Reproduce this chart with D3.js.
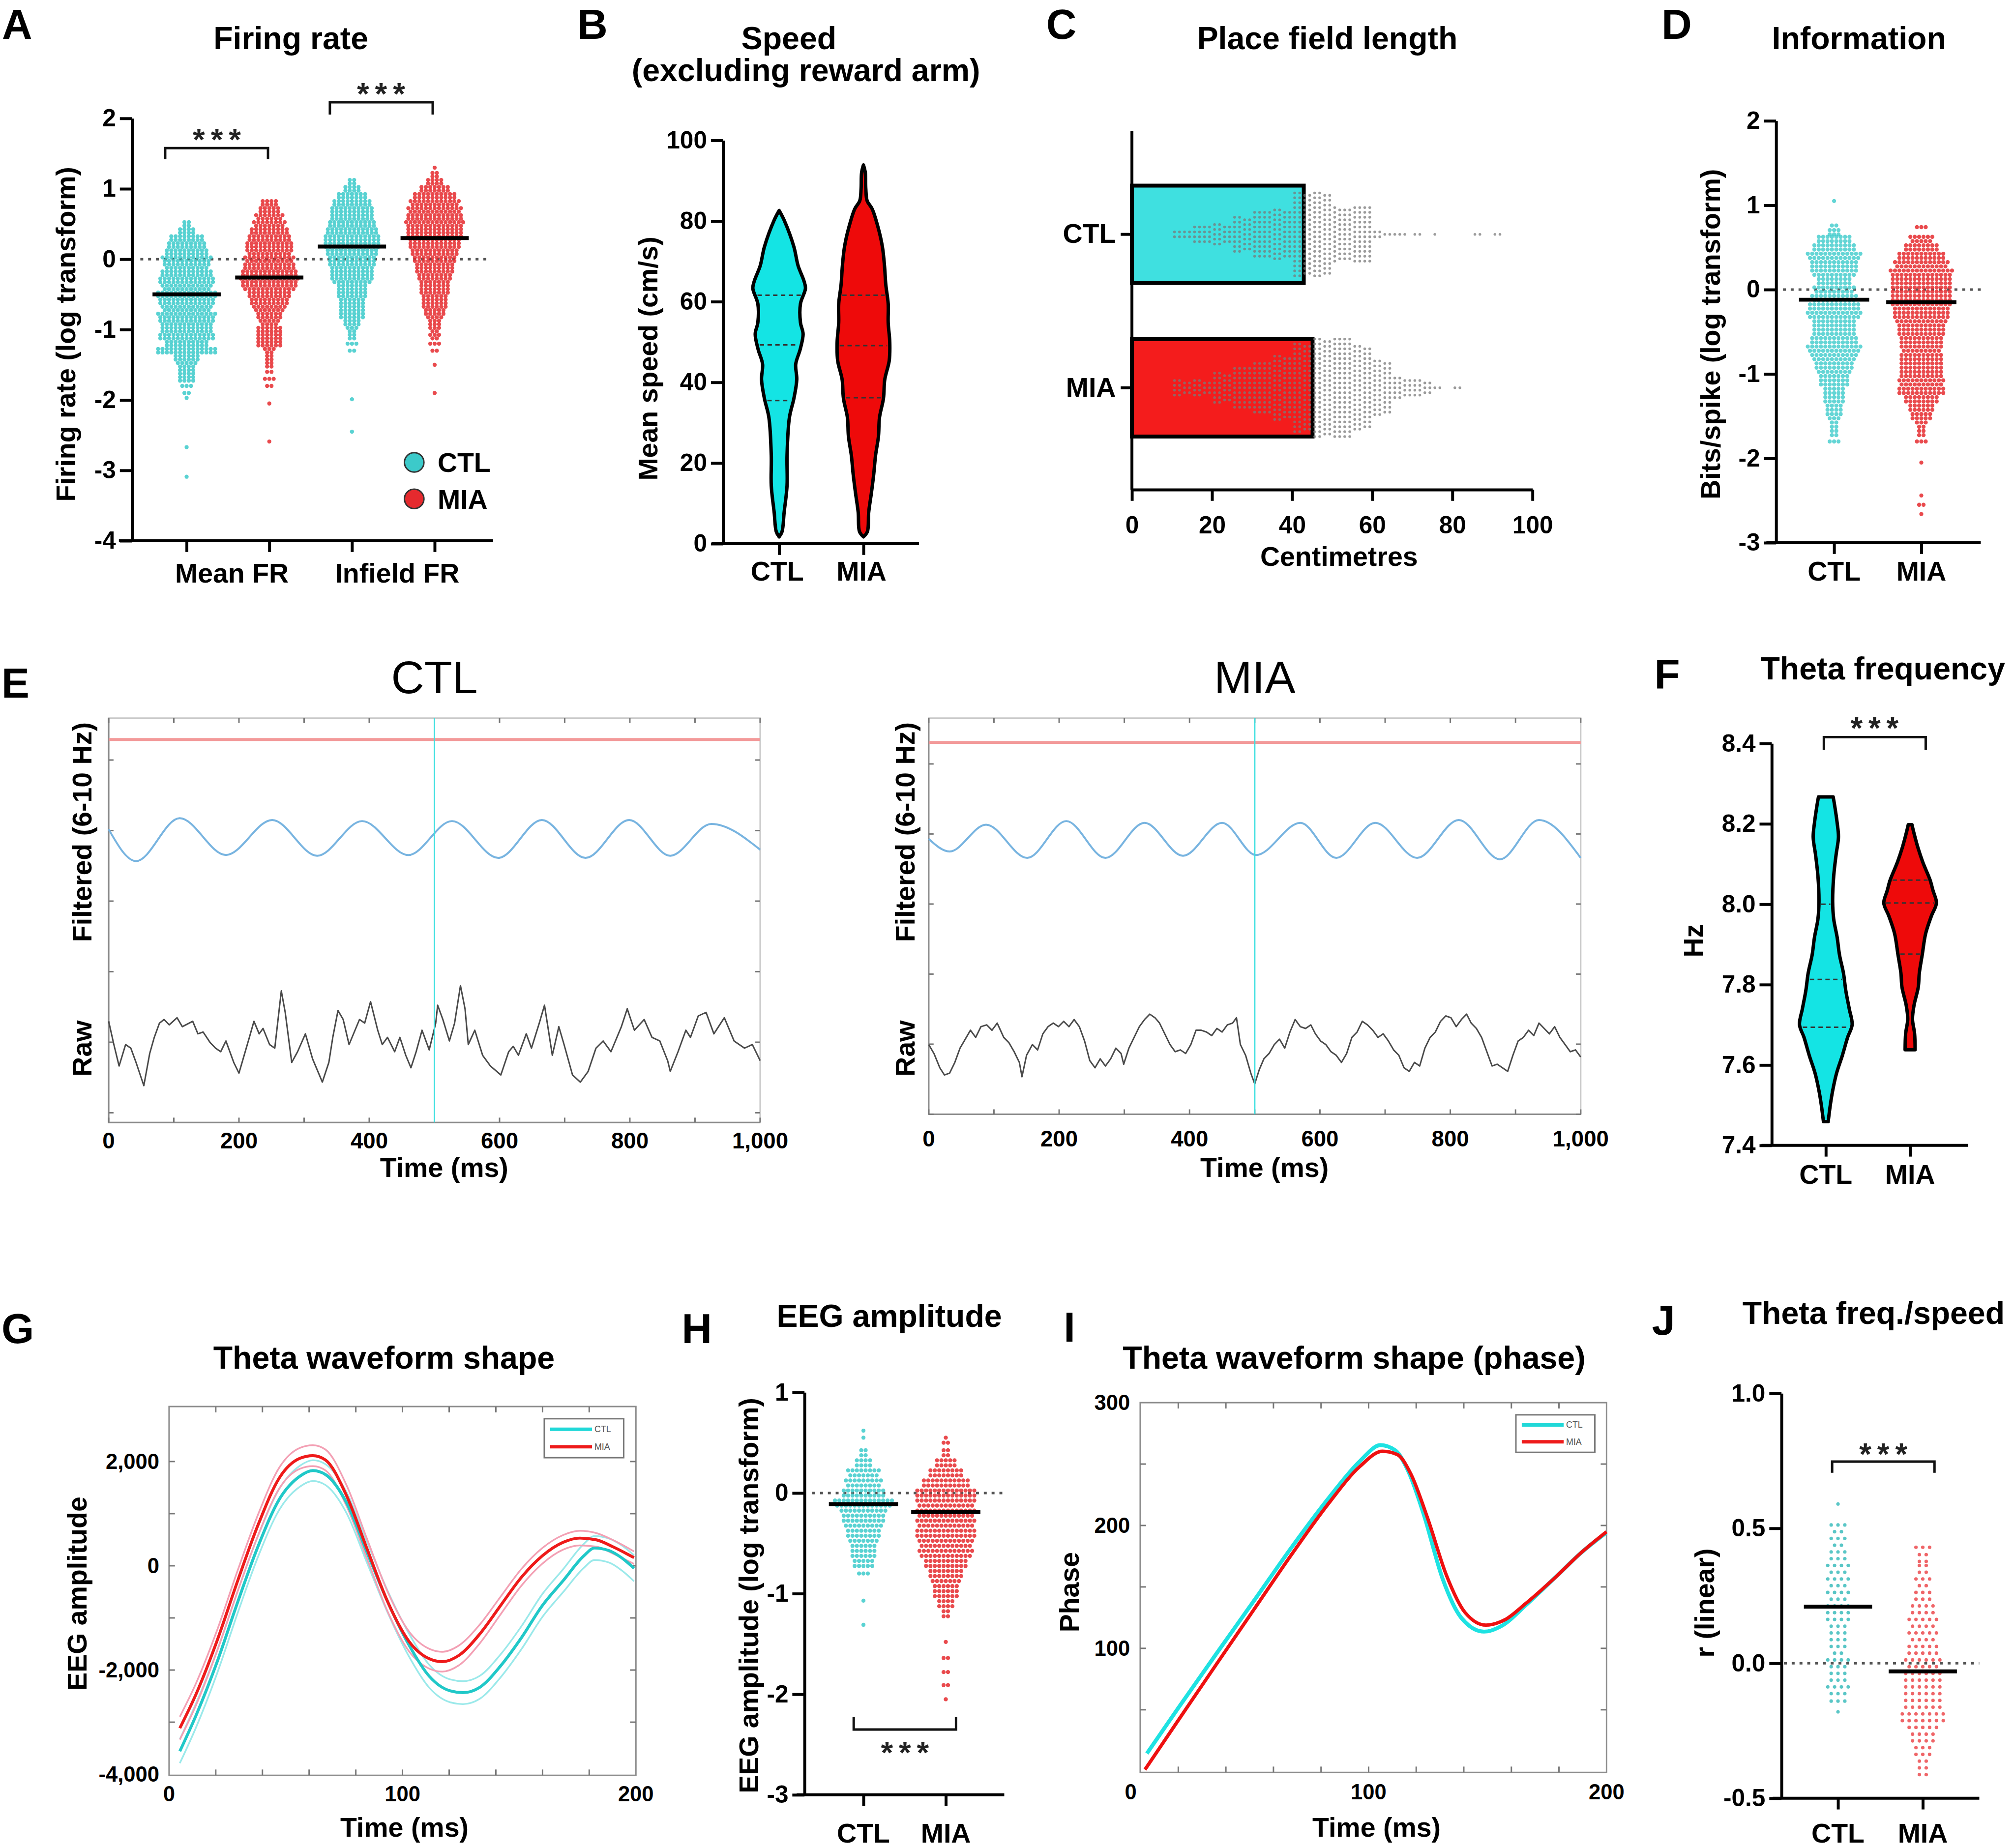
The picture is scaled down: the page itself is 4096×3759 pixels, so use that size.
<!DOCTYPE html>
<html><head><meta charset="utf-8">
<script src="https://cdn.jsdelivr.net/npm/d3@7"></script>
<style>html,body{margin:0;padding:0;background:#fff;}svg{display:block;}</style>
</head><body>
<svg id="fig" width="4096" height="3759"></svg>
<script>
// ================= DATA =================
// A: Firing rate (log transform) — [value, number of cells]
const frGroups = ["Mean FR", "Infield FR"];
const frCats = ["Mean FR|CTL", "Mean FR|MIA", "Infield FR|CTL", "Infield FR|MIA"];
const frMeans = [-0.50, -0.26, 0.18, 0.30];
const frMeanCTL = [[0.5,4],[0.4,8],[0.3,16],[0.2,18],[0.1,20],[0,23],[-0.1,21],[-0.2,24],[-0.3,26],[-0.4,23],[-0.5,28],[-0.6,26],[-0.7,23],[-0.8,27],[-0.9,25],[-1.0,24],[-1.1,26],[-1.2,20],[-1.3,28],[-1.4,12],[-1.5,9],[-1.6,8],[-1.7,8],[-1.8,3],[-1.9,2],[-1.97,1],[-2.67,1],[-3.09,1]];
const frMeanMIA = [[0.8,8],[0.7,10],[0.6,13],[0.5,15],[0.4,18],[0.3,20],[0.2,22],[0.1,21],[0,23],[-0.1,24],[-0.2,26],[-0.3,27],[-0.4,25],[-0.5,20],[-0.6,18],[-0.7,15],[-0.8,12],[-0.9,9],[-1.0,12],[-1.1,12],[-1.2,12],[-1.3,5],[-1.4,4],[-1.5,4],[-1.6,2],[-1.7,3],[-1.8,2],[-2.05,1],[-2.59,1]];
const frInCTL = [[1.1,4],[1.0,8],[0.9,14],[0.8,18],[0.7,20],[0.6,20],[0.5,22],[0.4,24],[0.3,26],[0.2,26],[0.1,24],[0,22],[-0.1,21],[-0.2,20],[-0.3,19],[-0.4,14],[-0.5,14],[-0.6,12],[-0.7,12],[-0.8,12],[-0.9,8],[-1.0,5],[-1.1,4],[-1.2,3],[-1.3,2],[-1.99,1],[-2.45,1]];
const frInMIA = [[1.3,1],[1.2,4],[1.1,8],[1.0,14],[0.9,20],[0.8,23],[0.7,25],[0.6,26],[0.5,27],[0.4,26],[0.3,25],[0.2,24],[0.1,22],[0,20],[-0.1,18],[-0.2,17],[-0.3,15],[-0.4,14],[-0.5,13],[-0.6,12],[-0.7,11],[-0.8,9],[-0.9,6],[-1.0,5],[-1.1,5],[-1.2,3],[-1.3,2],[-1.5,1],[-1.9,1]];
const frYTicks = [-4, -3, -2, -1, 0, 1, 2];

// B: Speed violins — [speed, relative density]; quartiles
const groups = ["CTL", "MIA"];
const spdCTL = [[1.7,0],[3,0.11],[7.8,0.19],[14.4,0.30],[21.9,0.30],[31.3,0.39],[36,0.56],[40.7,0.67],[44.5,0.63],[48.2,0.80],[52,0.91],[54.8,0.81],[59.5,0.81],[63.3,1.0],[65.2,0.94],[68.9,0.72],[73.6,0.56],[80.2,0.19],[82.6,0]];
const spdMIA = [[1.7,0],[3,0.15],[7.8,0.2],[12.5,0.3],[17.2,0.39],[21.9,0.46],[26.6,0.57],[31.3,0.61],[36,0.76],[40.7,0.81],[45.4,0.98],[50,1.0],[54.8,0.94],[59.5,0.94],[64.2,0.85],[68.9,0.8],[73.6,0.72],[78.3,0.56],[83,0.33],[85,0.14],[88,0.09],[92,0.07],[93.9,0]];
const spdQCTL = [35.5, 49.3, 61.6];
const spdQMIA = [36.2, 49.1, 61.6];
const spdTicks = [0, 20, 40, 60, 80, 100];

// C: Place field length — bar means and [cm bin centre, count]
const pfMeans = [42.9, 45.1];
const pfCTL = [[12.5,8],[17.5,16],[22.5,18],[27.5,30],[32.5,40],[37.5,42],[42.5,70],[47.5,70],[52.5,45],[57.5,48],[62.5,6],[67.5,3],[72.5,2],[77.5,1],[87.5,2],[92.5,2]];
const pfMIA = [[12.5,14],[17.5,14],[22.5,26],[27.5,36],[32.5,44],[37.5,54],[42.5,74],[47.5,82],[52.5,84],[57.5,70],[62.5,46],[67.5,18],[72.5,14],[77.5,2],[82.5,2]];
const pfTicks = [0, 20, 40, 60, 80, 100];

// D: Information (bits/spike, log)
const infoMeans = [-0.12, -0.15];
const infoCTL = [[1.05,1],[0.76,2],[0.68,6],[0.6,16],[0.5,20],[0.4,25],[0.3,22],[0.2,21],[0.1,16],[0,19],[-0.1,21],[-0.2,24],[-0.3,25],[-0.4,20],[-0.5,20],[-0.6,22],[-0.7,25],[-0.8,21],[-0.9,18],[-1.0,15],[-1.1,14],[-1.2,10],[-1.3,10],[-1.4,8],[-1.5,7],[-1.6,4],[-1.7,4],[-1.8,3]];
const infoMIA = [[0.74,3],[0.6,11],[0.5,16],[0.4,22],[0.3,25],[0.2,29],[0.1,28],[0,28],[-0.1,28],[-0.2,27],[-0.3,26],[-0.4,23],[-0.5,22],[-0.6,20],[-0.7,19],[-0.8,20],[-0.9,20],[-1.0,20],[-1.1,21],[-1.2,22],[-1.3,16],[-1.4,12],[-1.5,10],[-1.6,5],[-1.7,4],[-1.8,3],[-2.05,1],[-2.44,1],[-2.55,2],[-2.66,1]];
const infoTicks = [-3, -2, -1, 0, 1, 2];

// E: example traces — [time ms, amplitude (a.u.)]
const filtCTL = [[0,0.54],[42,-1.24],[109,1.16],[180,-0.9],[251,1.06],[320,-0.94],[389,1.0],[460,-0.9],[527,1.0],[598,-1.06],[665,1.06],[732,-1.06],[799,1.06],[862,-0.94],[925,0.84],[1000,-0.6]];
const filtMIA = [[0,0],[32,-0.7],[88,0.8],[151,-1.06],[211,1.0],[271,-1.06],[331,0.9],[390,-0.94],[450,0.9],[502,-0.9],[570,0.9],[625,-1.06],[685,0.9],[749,-1.06],[813,1.06],[876,-1.14],[936,1.06],[1000,-1.06]];
const rawCTL = [[0,0.65],[8,0],[16,-0.6],[26,0],[34,-0.1],[42,-0.5],[54,-1.15],[63,-0.25],[70,0.2],[78,0.6],[85,0.7],[93,0.55],[105,0.75],[113,0.5],[129,0.65],[137,0.3],[145,0.35],[156,0.05],[164,-0.1],[172,-0.2],[180,0.1],[192,-0.5],[200,-0.8],[208,-0.3],[216,0.2],[223,0.65],[231,0.3],[237,0.45],[247,0],[255,-0.1],[265,1.5],[271,0.9],[281,-0.5],[290,-0.2],[302,0.3],[313,-0.4],[328,-1.05],[338,-0.5],[344,0.2],[352,0.95],[360,0.7],[369,0],[385,0.7],[393,0.6],[402,1.2],[413,0.4],[420,0],[428,0.2],[439,-0.2],[447,0.2],[456,-0.3],[464,-0.65],[472,-0.2],[481,0.4],[492,-0.15],[502,0.6],[505,1.1],[513,0.7],[523,0.1],[531,0.6],[540,1.65],[547,1.0],[552,0],[562,0.4],[574,-0.3],[586,-0.6],[602,-0.85],[614,-0.2],[621,-0.05],[629,-0.3],[641,0.3],[649,-0.1],[661,0.6],[669,1.1],[681,-0.3],[691,0.5],[699,0],[712,-0.85],[724,-1.05],[736,-0.75],[748,-0.1],[759,0.1],[771,-0.2],[787,0.5],[796,1.0],[807,0.4],[822,0.7],[834,0.2],[846,0.1],[858,-0.45],[862,-0.75],[874,-0.2],[886,0.4],[893,0.2],[905,0.8],[917,0.9],[929,0.3],[945,0.75],[960,0.1],[976,-0.1],[988,0],[1000,-0.45]];
const rawMIA = [[0,0],[8,-0.25],[17,-0.65],[24,-0.85],[32,-0.8],[40,-0.5],[48,-0.1],[56,0.15],[64,0.4],[72,0.2],[80,0.5],[89,0.55],[97,0.4],[105,0.6],[115,0.2],[123,0.05],[131,-0.2],[139,-0.5],[143,-0.9],[150,-0.3],[159,0],[167,-0.15],[175,0.3],[183,0.5],[191,0.6],[199,0.5],[207,0.65],[215,0.5],[223,0.7],[231,0.5],[239,0.1],[247,-0.45],[255,-0.65],[263,-0.4],[271,-0.6],[279,-0.4],[287,-0.1],[295,-0.25],[299,-0.55],[307,-0.1],[315,0.2],[323,0.5],[331,0.7],[339,0.85],[347,0.75],[354,0.6],[362,0.3],[370,0],[378,-0.2],[386,-0.15],[394,-0.25],[402,0],[410,0.4],[418,0.4],[426,0.35],[434,0.25],[442,0.45],[450,0.35],[458,0.55],[466,0.6],[472,0.75],[478,0],[486,-0.3],[494,-0.8],[500,-1.1],[507,-0.7],[514,-0.4],[522,-0.25],[530,0],[538,0.15],[546,-0.1],[554,0.35],[562,0.7],[570,0.5],[578,0.45],[586,0.55],[593,0.3],[601,0.1],[609,0],[617,-0.2],[625,-0.3],[633,-0.5],[641,-0.25],[649,0.2],[657,0.35],[665,0.65],[673,0.55],[681,0.4],[689,0.2],[697,0.3],[705,0.1],[713,-0.15],[721,-0.3],[729,-0.65],[737,-0.75],[745,-0.5],[753,-0.6],[761,-0.1],[769,0.2],[777,0.35],[785,0.65],[793,0.8],[801,0.75],[809,0.5],[817,0.7],[825,0.85],[832,0.6],[840,0.45],[848,0.2],[856,-0.2],[864,-0.6],[872,-0.55],[880,-0.65],[888,-0.75],[896,-0.3],[904,0.1],[912,0.2],[920,0.4],[928,0.25],[936,0.6],[944,0.45],[952,0.3],[960,0.5],[968,0.2],[976,0],[984,-0.2],[992,-0.15],[1000,-0.35]];
const threshCTL = 5.56, threshMIA = 5.4;
const eegTimeTicks = [0, 200, 400, 600, 800, 1000];

// F: Theta frequency violins
const thetaCTL = [[7.459,0.09],[7.5,0.17],[7.536,0.26],[7.58,0.41],[7.624,0.63],[7.669,0.83],[7.7,1.0],[7.74,0.89],[7.785,0.76],[7.829,0.67],[7.874,0.52],[7.918,0.43],[7.963,0.30],[8.007,0.26],[8.07,0.30],[8.123,0.39],[8.167,0.48],[8.203,0.43],[8.248,0.33],[8.267,0.28]];
const thetaMIA = [[7.638,0.19],[7.678,0.17],[7.714,0.09],[7.749,0.15],[7.794,0.31],[7.829,0.35],[7.874,0.46],[7.927,0.59],[7.971,0.81],[8.003,1.0],[8.034,0.87],[8.06,0.76],[8.105,0.48],[8.14,0.30],[8.176,0.15],[8.198,0.07]];
const thetaQCTL = [7.694, 7.813, 8.0];
const thetaQMIA = [7.876, 8.003, 8.06];
const thetaTicks = [7.4, 7.6, 7.8, 8.0, 8.2, 8.4];

// G: Theta waveform shape — [time ms, amplitude], SEM
const waveCTL = [[4.6,-3558],[11.5,-2876],[20.5,-1854],[29.4,-695],[38.3,395],[47.3,1281],[56.2,1723],[61.6,1826],[67,1750],[76,1213],[84.8,258],[93.7,-695],[102.7,-1513],[111.6,-2126],[120.5,-2400],[125.9,-2434],[133.1,-2332],[142,-1922],[151,-1377],[159.9,-764],[168.8,-287],[177.7,190],[182.2,340],[188.5,292],[193.8,156],[199.2,-48]];
const waveSemCTL = [230,230,220,210,200,200,200,200,200,200,200,210,220,220,220,220,220,220,220,220,220,230,230,230,240,250];
const waveMIA = [[4.6,-3115],[11.5,-2468],[20.5,-1445],[29.4,-287],[38.3,804],[47.3,1690],[56.2,2064],[61.6,2112],[67,2030],[76,1349],[84.8,327],[93.7,-695],[102.7,-1445],[111.6,-1786],[117,-1840],[124.2,-1718],[133.1,-1309],[142,-764],[151,-218],[159.9,190],[168.8,449],[176,531],[183.1,497],[190.3,361],[199.2,156]];
const waveSemMIA = [220,210,200,200,200,200,200,200,200,200,190,190,190,190,190,190,180,170,160,150,140,140,130,130,120];
const waveYTicks = [2000, 0, -2000, -4000];
const msTicks = [0, 100, 200];

// H: EEG amplitude (log)
const ampMeans = [-0.11, -0.19];
const ampCTL = [[0.62,1],[0.55,1],[0.4,4],[0.3,8],[0.2,15],[0.1,17],[0,20],[-0.1,27],[-0.2,21],[-0.3,19],[-0.4,16],[-0.5,13],[-0.6,12],[-0.7,10],[-0.8,3],[-1.07,1],[-1.31,1]];
const ampMIA = [[0.55,1],[0.5,2],[0.4,4],[0.3,10],[0.2,16],[0.1,22],[0,28],[-0.1,27],[-0.2,27],[-0.3,27],[-0.4,28],[-0.5,25],[-0.6,25],[-0.7,20],[-0.8,16],[-0.9,13],[-1.0,12],[-1.1,8],[-1.2,4],[-1.48,1],[-1.64,2],[-1.78,2],[-1.91,2],[-2.05,1]];
const ampTicks = [-3, -2, -1, 0, 1];

// I: Theta waveform shape (phase)
const phaseCTL = [[6.8,14.4],[20.2,52],[36,95.6],[51.9,139],[67.8,182.7],[83.6,223.3],[96.3,252.3],[105,265.4],[111.3,261],[116.8,243.6],[123.2,208.8],[131.1,156.6],[139,124.7],[148.5,113.6],[156.4,118.8],[165.9,134.8],[178.6,158],[189.6,178.3],[200,194.3]];
const phaseMIA = [[6,1.3],[20.2,42],[36,87],[51.9,131.9],[67.8,176.9],[83.6,219],[96.3,248],[105.8,260.4],[112.1,257.7],[117.7,242.1],[124.8,205.9],[132.7,159.5],[140.6,129],[149.3,118.9],[157.2,123.2],[165.9,136.3],[178.6,158],[189.6,178.3],[200,194.9]];
const phaseTicks = [100, 200, 300];

// J: Theta freq./speed correlation
const corrMeans = [0.21, -0.03];
const corrCTL = [[0.59,1],[0.5,5],[0.45,5],[0.4,6],[0.35,7],[0.3,7],[0.25,7],[0.2,8],[0.15,7],[0.1,6],[0.05,5],[0,7],[-0.05,6],[-0.1,7],[-0.14,3],[-0.18,1]];
const corrMIA = [[0.43,3],[0.39,4],[0.35,4],[0.3,5],[0.25,6],[0.2,8],[0.15,9],[0.1,9],[0.05,10],[0,11],[-0.05,12],[-0.1,12],[-0.15,12],[-0.2,14],[-0.25,9],[-0.3,7],[-0.35,5],[-0.4,4]];
const corrTicks = [-0.5, 0, 0.5, 1.0];

// ================= DRAWING =================
const FONT = "'Liberation Sans', Arial, Helvetica, sans-serif";
const CYAN_DOT = "#3ccaca", RED_DOT = "#e52a2e";
const CYAN_FILL = "#14e4e4", RED_FILL = "#ee0a0a";
const svg = d3.select("#fig");
svg.append("rect").attr("width", 4096).attr("height", 3759).attr("fill", "#fff");
const root = svg.append("g").attr("transform", "scale(0.991)");
const hy = s => String(s).replace(/\u2212/g, "-");

function text(g, x, y, s, o = {}) {
  const t = g.append("text").attr("x", x).attr("y", y).text(s)
    .attr("font-family", FONT).attr("font-weight", o.weight || "bold")
    .attr("font-size", o.size || 56).attr("fill", o.fill || "#000")
    .attr("text-anchor", o.anchor || "middle");
  if (o.rotate) t.attr("transform", `rotate(-90,${x},${y})`).attr("dominant-baseline", "central");
  if (o.baseline) t.attr("dominant-baseline", o.baseline);
  if (o.ls) t.attr("letter-spacing", o.ls);
  return t;
}
function letter(g, x, y, s) { return text(g, x, y, s, { size: 86, anchor: "start" }); }
function styleAxis(sel, fs) {
  sel.select(".domain").attr("stroke", "#000").attr("stroke-width", 6);
  sel.selectAll(".tick line").attr("stroke", "#000").attr("stroke-width", 6);
  sel.selectAll(".tick text").attr("font-family", FONT).attr("font-weight", "bold")
    .attr("font-size", fs).attr("fill", "#000");
}
function leftAxis(g, y, xPos, ticks, fmt) {
  g.append("g").attr("transform", `translate(${xPos},0)`)
    .call(d3.axisLeft(y).tickValues(ticks).tickFormat(fmt).tickSize(25).tickSizeOuter(0).tickPadding(8))
    .call(styleAxis, 50);
}
function bottomCatAxis(g, x, yPos, x0, x1) {
  g.append("line").attr("x1", x0).attr("x2", x1).attr("y1", yPos).attr("y2", yPos)
    .attr("stroke", "#000").attr("stroke-width", 6);
  g.append("g").attr("transform", `translate(0,${yPos})`)
    .call(d3.axisBottom(x).tickSize(23).tickSizeOuter(0).tickFormat(""))
    .call(s => s.select(".domain").remove()).call(styleAxis, 50);
}
function zeroLine(g, yv, x0, x1) {
  g.append("line").attr("x1", x0).attr("x2", x1).attr("y1", yv).attr("y2", yv)
    .attr("stroke", "#555").attr("stroke-width", 5).attr("stroke-dasharray", "6 10");
}
function swarmPoints(bins, cx, y, binW, k, s) {
  const rowPx = Math.abs(y(0) - y(binW));
  const pts = [];
  bins.forEach(([v, n]) => {
    const kk = n < 2 * k ? 1 : k;
    for (let j = 0; j < kk; j++) {
      const m = Math.floor(n / kk) + (j < n % kk ? 1 : 0);
      const yy = y(v) + (kk > 1 ? (j - (kk - 1) / 2) * rowPx / kk : 0);
      for (let i = 0; i < m; i++) pts.push([cx + (i - (m - 1) / 2) * s, yy]);
    }
  });
  return pts;
}
function dots(g, pts, r, color, op = 0.85) {
  g.append("g").selectAll("circle").data(pts).join("circle")
    .attr("cx", d => d[0]).attr("cy", d => d[1]).attr("r", r)
    .attr("fill", color).attr("fill-opacity", op);
}
function meanLine(g, cx, yv, hw) {
  g.append("line").attr("x1", cx - hw).attr("x2", cx + hw).attr("y1", yv).attr("y2", yv)
    .attr("stroke", "#000").attr("stroke-width", 8);
}
function bracket(g, x0, x1, yBar, yEnd) {
  g.append("path").attr("d", `M${x0},${yEnd}V${yBar}H${x1}V${yEnd}`)
    .attr("fill", "none").attr("stroke", "#111").attr("stroke-width", 5);
}
function stars(g, cx, base) {
  text(g, cx + 6, base, "***", { size: 64, ls: 12, fill: "#222" });
}
function densAt(data, v) {
  for (let i = 1; i < data.length; i++) {
    if (v <= data[i][0]) {
      const [a0, b0] = data[i - 1], [a1, b1] = data[i];
      return b0 + (b1 - b0) * (v - a0) / (a1 - a0);
    }
  }
  return 0;
}
function violin(g, data, cx, y, w, fill, quart) {
  const area = d3.area().y(d => y(d[0])).x0(d => cx - w(d[1])).x1(d => cx + w(d[1]))
    .curve(d3.curveCatmullRom.alpha(0.5));
  g.append("path").datum(data).attr("d", area).attr("fill", fill)
    .attr("stroke", "#000").attr("stroke-width", 7).attr("stroke-linejoin", "round");
  quart.forEach(q => {
    const hw = Math.max(0, w(densAt(data, q)) - 5);
    g.append("line").attr("x1", cx - hw).attr("x2", cx + hw).attr("y1", y(q)).attr("y2", y(q))
      .attr("stroke", "#333").attr("stroke-width", 3).attr("stroke-dasharray", "9 7");
  });
}

// ---------- Panel A ----------
{
  const g = root.append("g");
  letter(g, 4, 80, "A");
  text(g, 597, 101, "Firing rate", { size: 65 });
  const y = d3.scaleLinear().domain([-4, 2]).range([1110, 243]);
  const x = d3.scalePoint().domain(frCats).range([383, 892]);
  zeroLine(g, y(0), 288, 1002);
  const sets = [frMeanCTL, frMeanMIA, frInCTL, frInMIA];
  sets.forEach((b, i) => dots(g, swarmPoints(b, x(frCats[i]), y, 0.1, 2, 9), 4.2, i % 2 ? RED_DOT : CYAN_DOT));
  frMeans.forEach((m, i) => meanLine(g, x(frCats[i]), y(m), 70));
  leftAxis(g, y, 271, frYTicks, d => hy(d));
  bottomCatAxis(g, x, y(-4), 244, 1012);
  frGroups.forEach((grp) => {
    const cx = (x(grp + "|CTL") + x(grp + "|MIA")) / 2 + 8;
    text(g, cx, 1196, grp);
  });
  text(g, 135, 686, "Firing rate (log transform)", { rotate: true });
  bracket(g, 339, 550, 304, 327); stars(g, 445, 308);
  bracket(g, 677, 888, 210, 235); stars(g, 782, 214);
  [["CTL", CYAN_DOT, 949], ["MIA", RED_DOT, 1024]].forEach(([lab, c, yy]) => {
    g.append("circle").attr("cx", 850).attr("cy", yy).attr("r", 20).attr("fill", c)
      .attr("stroke", "#333").attr("stroke-width", 3);
    text(g, 898, yy + 20, lab, { anchor: "start" });
  });
}

// ---------- Panel B ----------
{
  const g = root.append("g");
  letter(g, 1185, 80, "B");
  text(g, 1619, 101, "Speed", { size: 65 });
  text(g, 1654, 167, "(excluding reward arm)", { size: 65 });
  const y = d3.scaleLinear().domain([0, 100]).range([1116, 288]);
  const x = d3.scalePoint().domain(groups).range([1599, 1772]);
  const w = d3.scaleLinear().domain([0, 1]).range([0, 54]);
  violin(g, spdCTL, x("CTL"), y, w, CYAN_FILL, spdQCTL);
  violin(g, spdMIA, x("MIA"), y, w, RED_FILL, spdQMIA);
  leftAxis(g, y, 1484, spdTicks, d => d);
  bottomCatAxis(g, x, y(0), 1461, 1886);
  groups.forEach(c => text(g, x(c) - 4, 1192, c));
  text(g, 1330, 736, "Mean speed (cm/s)", { rotate: true });
}

// ---------- Panel C ----------
{
  const g = root.append("g");
  letter(g, 2147, 80, "C");
  text(g, 2724, 101, "Place field length", { size: 65 });
  const x = d3.scaleLinear().domain([0, 100]).range([2323, 3145]);
  const y = d3.scaleBand().domain(groups).range([323.5, 953.5]).paddingInner(0.365).paddingOuter(0.1825);
  [[pfMeans[0], "CTL", "#3fe0e0"], [pfMeans[1], "MIA", "#f41c1c"]].forEach(([m, c, col]) => {
    g.append("rect").attr("x", x(0)).attr("y", y(c)).attr("width", x(m) - x(0)).attr("height", y.bandwidth())
      .attr("fill", col).attr("stroke", "#000").attr("stroke-width", 8);
  });
  const colPx = x(5) - x(0);
  [[pfCTL, "CTL"], [pfMIA, "MIA"]].forEach(([bins, c]) => {
    const cy = y(c) + y.bandwidth() / 2;
    const pts = [];
    bins.forEach(([v, n]) => {
      const k = 4;
      for (let j = 0; j < k; j++) {
        const m = Math.floor(n / k) + (j < n % k ? 1 : 0);
        const xx = x(v) + (j - (k - 1) / 2) * colPx / k;
        for (let i = 0; i < m; i++) pts.push([xx, cy + (i - (m - 1) / 2) * 10]);
      }
    });
    dots(g, pts, 2.8, "#7a7a7a", 0.75);
  });
  g.append("line").attr("x1", x(0)).attr("x2", x(0)).attr("y1", 269).attr("y2", 1005)
    .attr("stroke", "#000").attr("stroke-width", 6);
  g.append("g").attr("transform", "translate(0,1005)")
    .call(d3.axisBottom(x).tickValues(pfTicks).tickSize(23).tickSizeOuter(0).tickPadding(31))
    .call(styleAxis, 50);
  g.append("g").attr("transform", `translate(${x(0)},0)`)
    .call(d3.axisLeft(y).tickSize(23).tickSizeOuter(0).tickPadding(10))
    .call(s => s.select(".domain").remove()).call(styleAxis, 56);
  text(g, 2748, 1161, "Centimetres");
}

// ---------- Panel D ----------
{
  const g = root.append("g");
  letter(g, 3410, 80, "D");
  text(g, 3815, 101, "Information", { size: 65 });
  const y = d3.scaleLinear().domain([-3, 2]).range([1114, 248]);
  const x = d3.scalePoint().domain(groups).range([3764, 3943]);
  zeroLine(g, y(0), 3659, 4065);
  dots(g, swarmPoints(infoCTL, x("CTL"), y, 0.1, 2, 9), 4.2, CYAN_DOT, 0.8);
  dots(g, swarmPoints(infoMIA, x("MIA"), y, 0.1, 2, 9), 4.2, RED_DOT);
  infoMeans.forEach((m, i) => meanLine(g, x(groups[i]), y(m), 72));
  leftAxis(g, y, 3645, infoTicks, d => hy(d));
  bottomCatAxis(g, x, y(-3), 3625, 4065);
  groups.forEach(c => text(g, x(c), 1192, c));
  text(g, 3511, 686, "Bits/spike (log transform)", { rotate: true });
}

// ---------- Panel E ----------
function eegPanel(o) {
  const g = root.append("g");
  const x = d3.scaleLinear().domain([0, 1000]).range([o.x0, o.x1]);
  const yT = d3.scaleLinear().domain([0, 5]).range(o.tickRange);
  const yF = d3.scaleLinear().domain([-1, 1]).range([1758.7, 1685.3]);
  const yR = d3.scaleLinear().domain([-1, 1]).range([2217.4, 2070.6]);
  g.append("rect").attr("x", o.x0).attr("y", o.yTop).attr("width", o.x1 - o.x0).attr("height", o.yBot - o.yTop)
    .attr("fill", "none").attr("stroke", "#c8c8c8").attr("stroke-width", 3);
  g.append("path").attr("d", `M${o.x0},${o.yTop}V${o.yBot}H${o.x1}`).attr("fill", "none")
    .attr("stroke", "#8a8a8a").attr("stroke-width", 3);
  d3.range(0, 1001, 100).forEach(t => {
    g.append("line").attr("x1", x(t)).attr("x2", x(t)).attr("y1", o.yBot).attr("y2", o.yBot - 10).attr("stroke", "#777").attr("stroke-width", 3);
    g.append("line").attr("x1", x(t)).attr("x2", x(t)).attr("y1", o.yTop).attr("y2", o.yTop + 10).attr("stroke", "#777").attr("stroke-width", 3);
  });
  d3.range(0, 6).forEach(t => {
    g.append("line").attr("x1", o.x0).attr("x2", o.x0 + 10).attr("y1", yT(t)).attr("y2", yT(t)).attr("stroke", "#777").attr("stroke-width", 3);
    g.append("line").attr("x1", o.x1 - 10).attr("x2", o.x1).attr("y1", yT(t)).attr("y2", yT(t)).attr("stroke", "#777").attr("stroke-width", 3);
  });
  eegTimeTicks.forEach(t => text(g, x(t), o.labelY, d3.format(",")(t), { size: 46 }));
  text(g, (o.x0 + o.x1) / 2 + 20, 2416, "Time (ms)");
  text(g, (o.x0 + o.x1) / 2, 1423, o.title, { size: 94, weight: "normal" });
  text(g, o.labX, 1708, "Filtered (6-10 Hz)", { rotate: true });
  text(g, o.labX, 2152, "Raw", { rotate: true });
  g.append("line").attr("x1", o.x0).attr("x2", o.x1).attr("y1", yF(o.thresh)).attr("y2", yF(o.thresh))
    .attr("stroke", "#f39a9a").attr("stroke-width", 6);
  g.append("path").datum(o.filt).attr("fill", "none").attr("stroke", "#78b4e0").attr("stroke-width", 4)
    .attr("d", d3.line().x(d => x(d[0])).y(d => yF(d[1])).curve(d3.curveMonotoneX));
  g.append("path").datum(o.raw).attr("fill", "none").attr("stroke", "#4a4a4a").attr("stroke-width", 3)
    .attr("stroke-linejoin", "round")
    .attr("d", d3.line().x(d => x(d[0])).y(d => yR(d[1])));
  g.append("line").attr("x1", x(500)).attr("x2", x(500)).attr("y1", o.yTop).attr("y2", o.yBot)
    .attr("stroke", "#3fe0e0").attr("stroke-width", 3);
}
letter(root, 3, 1432, "E");
eegPanel({ x0: 223, x1: 1560, yTop: 1474, yBot: 2304, tickRange: [2284, 1560], labelY: 2357, labX: 169,
  title: "CTL", thresh: threshCTL, filt: filtCTL, raw: rawCTL });
eegPanel({ x0: 1906, x1: 3244, yTop: 1474, yBot: 2287, tickRange: [2287, 1568], labelY: 2353, labX: 1858,
  title: "MIA", thresh: threshMIA, filt: filtMIA, raw: rawMIA });

// ---------- Panel F ----------
{
  const g = root.append("g");
  letter(g, 3395, 1414, "F");
  text(g, 3864, 1395, "Theta frequency", { size: 65 });
  const y = d3.scaleLinear().domain([7.4, 8.4]).range([2351, 1526]);
  const x = d3.scalePoint().domain(groups).range([3747, 3920]);
  const w = d3.scaleLinear().domain([0, 1]).range([0, 54]);
  violin(g, thetaCTL, x("CTL"), y, w, CYAN_FILL, thetaQCTL);
  violin(g, thetaMIA, x("MIA"), y, w, RED_FILL, thetaQMIA);
  leftAxis(g, y, 3636, thetaTicks, d3.format(".1f"));
  bottomCatAxis(g, x, y(7.4), 3615, 4039);
  groups.forEach(c => text(g, x(c), 2430, c));
  text(g, 3475, 1931, "Hz", { rotate: true });
  bracket(g, 3743, 3952, 1513, 1539); stars(g, 3847, 1516);
}

// ---------- MATLAB-style frames (G, I) ----------
function matFrame(g, x, y, x0, x1, yTop, yBot, xMinor, yMinor) {
  g.append("rect").attr("x", x0).attr("y", yTop).attr("width", x1 - x0).attr("height", yBot - yTop)
    .attr("fill", "none").attr("stroke", "#8c8c8c").attr("stroke-width", 3);
  xMinor.forEach(t => {
    g.append("line").attr("x1", x(t)).attr("x2", x(t)).attr("y1", yBot).attr("y2", yBot - 12).attr("stroke", "#777").attr("stroke-width", 3);
    g.append("line").attr("x1", x(t)).attr("x2", x(t)).attr("y1", yTop).attr("y2", yTop + 12).attr("stroke", "#777").attr("stroke-width", 3);
  });
  yMinor.forEach(t => {
    g.append("line").attr("x1", x0).attr("x2", x0 + 12).attr("y1", y(t)).attr("y2", y(t)).attr("stroke", "#777").attr("stroke-width", 3);
    g.append("line").attr("x1", x1 - 12).attr("x2", x1).attr("y1", y(t)).attr("y2", y(t)).attr("stroke", "#777").attr("stroke-width", 3);
  });
}
function matLegend(g, bx, by, bw, bh) {
  g.append("rect").attr("x", bx).attr("y", by).attr("width", bw).attr("height", bh)
    .attr("fill", "#fff").attr("stroke", "#777").attr("stroke-width", 3);
  [["CTL", "#20d8d8", by + bh * 0.27], ["MIA", "#ee1a1a", by + bh * 0.72]].forEach(([lab, c, yy]) => {
    g.append("line").attr("x1", bx + 12).attr("x2", bx + 98).attr("y1", yy).attr("y2", yy)
      .attr("stroke", c).attr("stroke-width", 7);
    text(g, bx + 103, yy, lab, { size: 18, weight: "normal", anchor: "start", fill: "#555", baseline: "central" });
  });
}

// ---------- Panel G ----------
{
  const g = root.append("g");
  letter(g, 3, 2757, "G");
  text(g, 788, 2809, "Theta waveform shape", { size: 65 });
  const x = d3.scaleLinear().domain([0, 200]).range([347, 1305]);
  const y = d3.scaleLinear().domain([-4020, 3055]).range([3644, 2887]);
  matFrame(g, x, y, 347, 1305, 2887, 3644, d3.range(20, 200, 20), d3.range(-3000, 3000, 1000));
  waveYTicks.forEach(t => text(g, 327, y(t), hy(d3.format(",")(t)), { size: 44, anchor: "end", baseline: "central" }));
  msTicks.forEach(t => text(g, x(t), 3697, t, { size: 44 }));
  text(g, 830, 3770, "Time (ms)");
  text(g, 158, 3271, "EEG amplitude", { rotate: true });
  const line = d3.line().x(d => x(d[0])).y(d => y(d[1])).curve(d3.curveMonotoneX);
  [[waveCTL, waveSemCTL, "#9be9ea"], [waveMIA, waveSemMIA, "#f3a0b4"]].forEach(([m, s, c]) => {
    [1, -1].forEach(sg => g.append("path").datum(m.map((d, i) => [d[0], d[1] + sg * s[i]]))
      .attr("fill", "none").attr("stroke", c).attr("stroke-width", 3.5).attr("d", line));
  });
  g.append("path").datum(waveCTL).attr("fill", "none").attr("stroke", "#20c8c8").attr("stroke-width", 6).attr("d", line);
  g.append("path").datum(waveMIA).attr("fill", "none").attr("stroke", "#ee1a1a").attr("stroke-width", 6).attr("d", line);
  matLegend(g, 1117, 2912, 163, 80);
}

// ---------- Panel H ----------
{
  const g = root.append("g");
  letter(g, 1399, 2757, "H");
  text(g, 1825, 2724, "EEG amplitude", { size: 65 });
  const y = d3.scaleLinear().domain([-3, 1]).range([3684, 2858]);
  const x = d3.scalePoint().domain(groups).range([1772, 1941]);
  zeroLine(g, y(0), 1667, 2061);
  dots(g, swarmPoints(ampCTL, x("CTL"), y, 0.1, 2, 9), 4.2, CYAN_DOT);
  dots(g, swarmPoints(ampMIA, x("MIA"), y, 0.1, 2, 9), 4.2, RED_DOT);
  ampMeans.forEach((m, i) => meanLine(g, x(groups[i]), y(m), 71));
  leftAxis(g, y, 1651, ampTicks, d => hy(d));
  bottomCatAxis(g, x, y(-3), 1635, 2061);
  groups.forEach(c => text(g, x(c), 3782, c));
  text(g, 1537, 3275, "EEG amplitude (log transform)", { rotate: true });
  bracket(g, 1752, 1962, 3550, 3524); stars(g, 1857, 3619);
}

// ---------- Panel I ----------
{
  const g = root.append("g");
  letter(g, 2183, 2754, "I");
  text(g, 2779, 2809, "Theta waveform shape (phase)", { size: 65 });
  const x = d3.scaleLinear().domain([4, 200]).range([2340, 3297]);
  const y = d3.scaleLinear().domain([-1, 300]).range([3638, 2879]);
  matFrame(g, x, y, 2340, 3297, 2879, 3638, d3.range(20, 200, 20), d3.range(50, 300, 50));
  phaseTicks.forEach(t => text(g, 2319, y(t), t, { size: 44, anchor: "end", baseline: "central" }));
  msTicks.forEach(t => text(g, x(t), 3693, t, { size: 44 }));
  text(g, 2825, 3770, "Time (ms)");
  text(g, 2195, 3268, "Phase", { rotate: true });
  const line = d3.line().x(d => x(d[0])).y(d => y(d[1])).curve(d3.curveMonotoneX);
  g.append("path").datum(phaseCTL).attr("fill", "none").attr("stroke", "#1ee2e2").attr("stroke-width", 8).attr("d", line);
  g.append("path").datum(phaseMIA).attr("fill", "none").attr("stroke", "#ee1010").attr("stroke-width", 7).attr("d", line);
  matLegend(g, 3111, 2904, 162, 77);
}

// ---------- Panel J ----------
{
  const g = root.append("g");
  letter(g, 3390, 2740, "J");
  text(g, 3845, 2717, "Theta freq./speed", { size: 65 });
  const y = d3.scaleLinear().domain([-0.5, 1]).range([3691, 2860]);
  const x = d3.scalePoint().domain(groups).range([3772, 3946]);
  zeroLine(g, y(0), 3661, 4062);
  dots(g, swarmPoints(corrCTL, x("CTL"), y, 0.05, 2, 14), 3.6, "#3cbcbc");
  dots(g, swarmPoints(corrMIA, x("MIA"), y, 0.05, 2, 14), 3.6, "#ec4a4e");
  corrMeans.forEach((m, i) => meanLine(g, x(groups[i]), y(m), 70));
  leftAxis(g, y, 3656, corrTicks, d => hy(d3.format(".1f")(d)));
  bottomCatAxis(g, x, y(-0.5), 3638, 4062);
  groups.forEach(c => text(g, x(c), 3782, c));
  text(g, 3498, 3290, "r (linear)", { rotate: true });
  bracket(g, 3760, 3970, 3000, 3023); stars(g, 3865, 3006);
}
</script>
</body></html>
